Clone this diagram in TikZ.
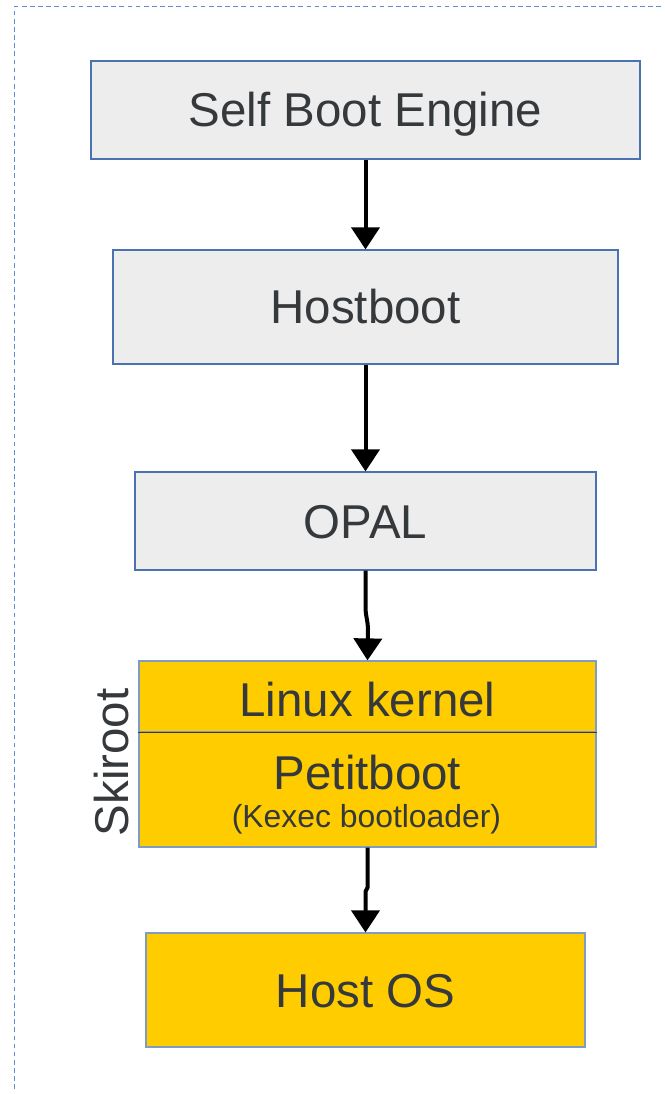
\documentclass[tikz,border=0pt]{standalone}
\usepackage{fontspec}
\setmainfont{Liberation Sans}
\usetikzlibrary{arrows.meta}
\definecolor{boxgray}{HTML}{EDEDED}
\definecolor{boxblue}{HTML}{4A72B0}
\definecolor{ylw}{HTML}{FFCC00}
\definecolor{ylwline}{HTML}{7F9DC4}
\definecolor{divline}{HTML}{3A3A20}
\definecolor{dashblue}{HTML}{5F8DD3}
\definecolor{txt}{HTML}{35393C}
\tikzset{
  bigfont/.style={font=\fontsize{35.6pt}{40pt}\selectfont},
  smallfont/.style={font=\fontsize{23.9pt}{28pt}\selectfont},
  basebox/.style={rectangle, line width=0.9pt, inner sep=0pt, text=txt, bigfont, text height=25.5pt, text depth=0pt},
  graybox/.style={basebox, draw=boxblue, fill=boxgray},
  ylwbox/.style={basebox, draw=ylwline, fill=ylw},
  lbl/.style={text=txt, inner sep=0pt, anchor=base},
  arr/.style={line width=3pt, -{Triangle[width=21pt,length=16.5pt]}},
}
\begin{document}
\begin{tikzpicture}[x=0.75pt,y=-0.75pt]
\useasboundingbox (0,0) rectangle (664,1094);
% dashed frame
\draw[dashblue, line width=1.3pt, dash pattern=on 3.5pt off 2.6pt] (14.5,1089) -- (14.5,6.5) -- (664,6.5);

\node[graybox, minimum width=411.75pt, minimum height=73.5pt] (sbe) at (365.5,110) {Self Boot Engine};
\node[graybox, minimum width=378.75pt, minimum height=85.5pt] (hostboot) at (365.5,307) {Hostboot};
\node[graybox, minimum width=345.75pt, minimum height=73.5pt] (opal) at (365.5,521) {OPAL};
\node[ylwbox, minimum width=342.75pt, minimum height=53.25pt, text height=30pt] (linux) at (367.5,696.5) {Linux kernel};
\node[ylwbox, minimum width=342.75pt, minimum height=86.25pt] (petit) at (367.5,789.5) {};
\node[ylwbox, minimum width=329.25pt, minimum height=85.5pt] (hostos) at (365.5,990) {Host OS};
\draw[divline, line width=0.9pt] (linux.south west) -- (linux.south east);

\node[lbl, bigfont] (petitlbl) at (367.5,789) {Petitboot};
\node[lbl, smallfont] (kexec) at (366.5,827) {(Kexec bootloader)};
\node[lbl, bigfont, rotate=90] (skiroot) at (128,762.5) {Skiroot};

\draw[arr] (sbe.south) -- (hostboot.north);
\draw[arr] (hostboot.south) -- (opal.north);
\draw[arr] (opal.south) -- ++(0,38) .. controls ++(0,6) and ++(0,-6) .. ++(2.5,20) -- (linux.north);
\draw[arr] (petit.south) -- ++(0,40) -- ++(-2,4) -- (hostos.north);
\end{tikzpicture}
\end{document}
